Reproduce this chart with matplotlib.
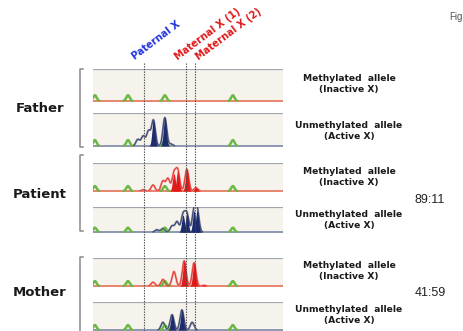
#!/usr/bin/env python3
"""
Painel de HUMARA (inativação do X): pai, paciente e mãe.
Cada linha = um eletroferograma (alelo metilado / não metilado).
"""

import numpy as np
import matplotlib
matplotlib.use("Agg")
import matplotlib.pyplot as plt
from matplotlib.lines import Line2D
import matplotlib.transforms as mtransforms

W, H = 463, 331

# tamanhos dos fragmentos (bp) e escala do eixo
SIZE_MIN, SIZE_MAX = 255.0, 305.0
LADDER = [255.5, 264.2, 273.9, 291.8]           # padrão de tamanho (verde)
ALLELES = [268.4, 279.5, 281.8]                 # Paternal X, Maternal X (1), Maternal X (2)
ALLELE_NAMES = ["Paternal X", "Maternal X (1)", "Maternal X (2)"]

SUBJECTS = ["Father", "Patient", "Mother"]
RATIOS = ["", "89:11", "41:59"]

# picos (tamanho bp, altura relativa) por painel
FATHER_METH_SIZE = []
FATHER_METH_HEIGHT = []
FATHER_UNMETH_SIZE = [266.8, 268.2, 269.6, 270.9, 273.9, 275.5]
FATHER_UNMETH_HEIGHT = [0.20, 0.30, 0.45, 0.78, 0.86, 0.06]
PATIENT_METH_SIZE = [268.2, 270.8, 273.4, 274.7, 276.3, 277.3, 279.7, 282.1]
PATIENT_METH_HEIGHT = [0.05, 0.22, 0.36, 0.45, 0.62, 0.72, 0.78, 0.12]
PATIENT_UNMETH_SIZE = [271.8, 273.4, 275.8, 277.1, 278.7, 279.7, 281.6, 282.4]
PATIENT_UNMETH_HEIGHT = [0.10, 0.15, 0.25, 0.42, 0.68, 0.72, 0.85, 0.85]
MOTHER_METH_SIZE = [270.8, 273.4, 276.3, 279.0, 281.6, 284.2]
MOTHER_METH_HEIGHT = [0.14, 0.24, 0.52, 0.90, 0.83, 0.03]
MOTHER_UNMETH_SIZE = [273.4, 275.8, 278.4, 281.1]
MOTHER_UNMETH_HEIGHT = [0.28, 0.55, 0.72, 0.28]

PANELS = [
    ("meth", FATHER_METH_SIZE, FATHER_METH_HEIGHT),
    ("unmeth", FATHER_UNMETH_SIZE, FATHER_UNMETH_HEIGHT),
    ("meth", PATIENT_METH_SIZE, PATIENT_METH_HEIGHT),
    ("unmeth", PATIENT_UNMETH_SIZE, PATIENT_UNMETH_HEIGHT),
    ("meth", MOTHER_METH_SIZE, MOTHER_METH_HEIGHT),
    ("unmeth", MOTHER_UNMETH_SIZE, MOTHER_UNMETH_HEIGHT),
]

# posição dos painéis em pixels (topo, base)
ROWS_PX = [(69, 102), (113, 147), (163, 192), (207, 233), (258, 287), (302, 331)]
PANEL_X0, PANEL_X1 = 93, 283

BG = "#f5f3eb"
GREEN = "#6cb845"
RED = "#e01a1a"
PINK = "#ef8079"
NAVY = "#1c2a6e"
GREYBLUE = "#7d8296"
BOLD = ["DejaVu Sans"]


def px_axes(fig, x0, y0, x1, y1):
    return fig.add_axes([x0 / W, 1 - y1 / H, (x1 - x0) / W, (y1 - y0) / H])


def trace(x, sizes, heights, sigma=0.5):
    y = np.zeros_like(x)
    for s, h in zip(sizes, heights):
        y += h * np.exp(-0.5 * ((x - s) / sigma) ** 2)
    return y


def so_picos(y, limite=0.01):
    # esconde a parte do traço que fica colada na linha de base
    return np.where(y > limite, y, np.nan)


def draw_panel(ax, kind, sizes, heights):
    ax.set_facecolor(BG)
    ax.set_xlim(SIZE_MIN, SIZE_MAX)
    ax.set_ylim(-0.03, 1.0)
    for sp in ax.spines.values():
        sp.set_visible(False)
    ax.set_xticks([])
    ax.set_yticks([])

    x = np.linspace(SIZE_MIN, SIZE_MAX, 3000)
    base_col = "#e8866e" if kind == "meth" else "#8e97b2"
    ax.axhline(1.0, color="#a2a6ae", lw=1.6, zorder=1)
    ax.axhline(0.0, color=base_col, lw=1.4, zorder=1)

    # padrão de tamanho
    g = trace(x, LADDER, [0.18] * len(LADDER), sigma=0.45)
    ax.plot(x, so_picos(g), color=GREEN, lw=1.8, zorder=3)

    if not sizes:
        return
    if kind == "meth":
        main, soft = RED, PINK
    else:
        main, soft = NAVY, GREYBLUE
    y = trace(x, sizes, heights)
    ax.plot(x, so_picos(y), color=soft, lw=1.4, zorder=2)
    # picos mais altos preenchidos
    top = max(heights)
    for s, h in zip(sizes, heights):
        if h >= 0.7 * top or (kind == "meth" and s > 281):
            yi = trace(x, [s], [h], sigma=0.38)
            m = yi > 0.01
            ax.fill_between(x[m], 0, yi[m], color=main, lw=0, zorder=4)
    ax.plot(x, so_picos(y), color=main, lw=0.6, alpha=0.7, zorder=5)


def main():
    fig = plt.figure(figsize=(W / 100, H / 100), dpi=100)
    plt.rcParams["font.family"] = ["Liberation Sans", "DejaVu Sans"]

    axes = []
    for (y0, y1), (kind, sizes, heights) in zip(ROWS_PX, PANELS):
        ax = px_axes(fig, PANEL_X0, y0, PANEL_X1, y1)
        draw_panel(ax, kind, sizes, heights)
        axes.append(ax)

    over = fig.add_axes([0, 0, 1, 1], zorder=10)
    over.set_xlim(0, W)
    over.set_ylim(H, 0)
    over.axis("off")
    over.patch.set_alpha(0)

    # linhas pontilhadas dos alelos, do topo até a base
    tr = mtransforms.blended_transform_factory(axes[0].transData, fig.transFigure)
    for a in ALLELES:
        fig.add_artist(Line2D([a, a], [1 - 63 / H, 0], transform=tr, color="#4a4a4a",
                              lw=0.8, ls=(0, (1.2, 1.2)), zorder=20))

    # rótulos inclinados dos alelos
    colors = ["#2233dd", RED, RED]
    offs = [-8, -7, 5]
    for a, nome, cor, dx in zip(ALLELES, ALLELE_NAMES, colors, offs):
        xp = PANEL_X0 + (a - SIZE_MIN) / (SIZE_MAX - SIZE_MIN) * (PANEL_X1 - PANEL_X0)
        over.text(xp + dx, 62, nome, color=cor, fontsize=7, fontweight="bold",
                  family=BOLD, rotation=37, rotation_mode="anchor",
                  ha="left", va="bottom")

    # chaves + nomes
    brackets = [(69, 147), (155, 231), (257, 340)]
    name_y = [108, 195, 293]
    for (b0, b1), nome, ny in zip(brackets, SUBJECTS, name_y):
        over.plot([83, 80, 80, 83], [b0, b0, b1, b1], color="#8a8a8a", lw=1.1)
        over.text(40, ny, nome, fontsize=9.5, fontweight="bold", family=BOLD,
                  ha="center", va="center", color="#1a1a1a")

    lab_y = [84, 131, 177, 220, 271, 315]
    for i, ly in enumerate(lab_y):
        txt = ("Methylated  allele\n(Inactive X)" if i % 2 == 0
               else "Unmethylated  allele\n(Active X)")
        over.text(349, ly, txt, fontsize=6.6, fontweight="bold", family=BOLD,
                  ha="center", va="center", linespacing=1.15, color="#1a1a1a")

    for r, ry in zip(RATIOS, [0, 200, 293]):
        if r:
            over.text(430, ry, r, fontsize=9, ha="center", va="center", color="#222222")

    over.text(449, 17, "Fig", fontsize=7, color="#555555", ha="left", va="center")

    fig.savefig("out.png", dpi=100)
    plt.close(fig)


if __name__ == "__main__":
    main()
